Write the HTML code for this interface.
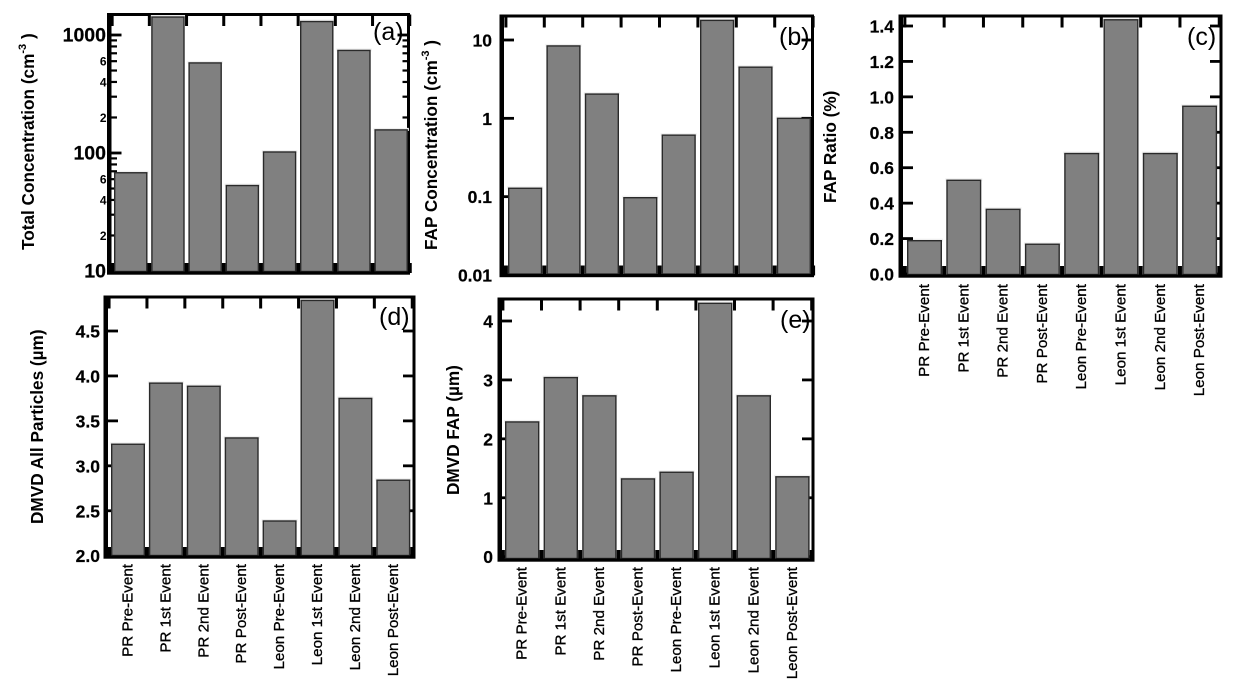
<!DOCTYPE html>
<html lang="en">
<head>
<meta charset="utf-8">
<title>Concentration and DMVD bar charts</title>
<style>
html,body{margin:0;padding:0;background:#fff;width:1237px;height:695px;overflow:hidden}
svg{display:block}
text{font-family:"Liberation Sans",Arial,sans-serif;fill:#000}
.tick{font-weight:bold;stroke:#000;stroke-width:.2px}
.minor{font-weight:bold;font-size:12px}
.title{font-weight:bold;font-size:17.2px}
.cat{font-size:15.2px;stroke:#000;stroke-width:.3px}
.tag{font-size:25px}
</style>
</head>
<body>
<svg id="fig" width="1237" height="695" viewBox="0 0 1237 695" xmlns="http://www.w3.org/2000/svg">
<defs><filter id="soft" x="-2%" y="-2%" width="104%" height="104%"><feGaussianBlur stdDeviation="0.3"/></filter></defs>
<g id="root" filter="url(#soft)"></g>
</svg>
<script>
const categories = ["PR Pre-Event","PR 1st Event","PR 2nd Event","PR Post-Event","Leon Pre-Event","Leon 1st Event","Leon 2nd Event","Leon Post-Event"];
const totalConcentration = [68,1420,580,53,102,1300,740,157];
const fapConcentration = [0.128,8.4,2.04,0.097,0.61,17.8,4.5,1.0];
const fapRatio = [0.188,0.529,0.365,0.168,0.68,1.435,0.68,0.947];
const dmvdAll = [3.24,3.92,3.885,3.31,2.386,4.84,3.75,2.84];
const dmvdFap = [2.287,3.04,2.73,1.32,1.433,4.30,2.73,1.356];

const ticksA = [10,100,1000];
const ticksB = [0.01,0.1,1,10];
const ticksC = [0,0.2,0.4,0.6,0.8,1.0,1.2,1.4];
const ticksD = [2.0,2.5,3.0,3.5,4.0,4.5];
const ticksE = [0,1,2,3,4];
const tickLabelsA = ["10","100","1000"];
const tickLabelsB = ["0.01","0.1","1","10"];
const tickLabelsC = ["0.0","0.2","0.4","0.6","0.8","1.0","1.2","1.4"];
const tickLabelsD = ["2.0","2.5","3.0","3.5","4.0","4.5"];
const tickLabelsE = ["0","1","2","3","4"];
const minorMultipliersA = [2,3,4,5,6,7,8,9];
const labelledMinorsA = [20,40,60,200,400,600];
const minorLabelsA = ["2","4","6","2","4","6"];

const NS = "http://www.w3.org/2000/svg";
const root = document.getElementById("root");

function make(tag, parent, props, text) {
  const el = document.createElementNS(NS, tag);
  for (const k in props) el.setAttribute(k, props[k]);
  if (text !== undefined) el.textContent = text;
  parent.appendChild(el);
  return el;
}
function linearScale(d0, d1, r0, r1) {
  return v => r0 + (v - d0) / (d1 - d0) * (r1 - r0);
}
function logScale(d0, d1, r0, r1) {
  return v => r0 + (Math.log10(v) - Math.log10(d0)) / (Math.log10(d1) - Math.log10(d0)) * (r1 - r0);
}
function bandScale(count, first, pitch) {
  return i => first + i * pitch;
}

function drawPanel(p) {
  const g = make("g", root, {});
  
  

  const band = bandScale(categories.length, p.barX, p.pitch);
  const inset = 0.7;

  const frame = make("rect", g, {x:p.l, y:p.t, width:p.r-p.l, height:p.b-p.t, fill:"#fff", stroke:"#000", "stroke-width":3});
  
  
  const spine = make("rect", g, {x:p.l, y:p.t, width:3, height:p.b-p.t, fill:"#000"});
  
  

  p.values.forEach((v, i) => {
    const y = p.scale(v);
    const halo = make("rect", g, {x:band(i)-1, y:y-2, width:p.barW+2, height:3, fill:"#f0f0f0"});
    
    
  });

  p.ticks.forEach((v, i) => {
    const y = p.scale(v);
    const t1 = make("rect", g, {x:p.l, y:y-1.4, width:13, height:2.8, fill:"#000"});
    
    
    const t2 = make("rect", g, {x:p.r-11, y:y-1.4, width:11, height:2.8, fill:"#000"});
    
    
    const lab = make("text", g, {x:p.labelX, y:y+6.5, "text-anchor":"end", class:"tick", "font-size":p.tickSize+"px"}, p.tickLabels[i]);
    
    
  });

  if (p.minorTicks) {
    p.minorTicks.forEach(v => {
      const y = p.scale(v);
      const a = make("rect", g, {x:p.l, y:y-1.1, width:8.5, height:2.2, fill:"#000"});
      
      
      const b = make("rect", g, {x:p.r-6, y:y-1.1, width:6, height:2.2, fill:"#000"});
      
      
    });
    labelledMinorsA.forEach((v, i) => {
      const m = make("text", g, {x:p.l-2, y:p.scale(v)+4.5, "text-anchor":"end", class:"minor"}, minorLabelsA[i]);
      
      
    });
  }

  for (let i = 0; i <= categories.length; i++) {
    const x = band(i) - (p.pitch - p.barW) / 2;
    const top = make("rect", g, {x:x-1.5, y:p.t, width:3, height:11.5, fill:"#000"});
    
    
    const bottom = make("rect", g, {x:x-2, y:p.b-10, width:4, height:10, fill:"#000"});
    
    
  }

  p.values.forEach((v, i) => {
    const y = p.scale(v);
    const h = p.b - 1.5 - y;
    const bar = make("rect", g, {x:band(i)+inset, y:y, width:p.barW-2*inset, height:h, fill:"#808080", stroke:"#2a2a2a", "stroke-width":1.4});
    
    
  });

  const base = make("rect", g, {x:p.l-1.5, y:p.b-1.5, width:p.r-p.l+3, height:3.2, fill:"#000"});
  
  

  const tx = p.titleX, ty = p.titleY;
  const title = make("text", g, {x:tx, y:ty, class:"title", transform:"rotate(-90 "+tx+" "+ty+")"});
  
  
  if (p.sup) {
    make("tspan", title, {}, p.title);
    make("tspan", title, {dy:-8, "font-size":"11px"}, p.sup);
    make("tspan", title, {dy:8}, " )");
  } else {
    title.textContent = p.title;
  }

  const tag = make("text", g, {x:p.tagX, y:p.tagY, class:"tag"}, "(" + p.id + ")");
  
  

  if (p.catTop) {
    categories.forEach((c, i) => {
      const x = band(i) + p.barW / 2 + 4.5;
      const t = make("text", g, {x:x, y:p.catTop, "text-anchor":"end", class:"cat", transform:"rotate(-90 "+x+" "+p.catTop+")"}, c);
      
      
    });
  }
}

const minorsA = [];
[10,100,1000].forEach(d => minorMultipliersA.forEach(m => { if (d*m <= 1900) minorsA.push(d*m); }));

drawPanel({id:"a", l:108.5, r:408.5, t:14.5, b:273, barX:114, pitch:37.2, barW:33.5, tickSize:19.5,
  scale:logScale(10,1000,271,35), values:totalConcentration, ticks:ticksA, tickLabels:tickLabelsA,
  minorTicks:minorsA, labelX:106, title:"Total Concentration (cm", sup:"-3", titleX:34, titleY:250, tagX:373, tagY:40});
drawPanel({id:"b", l:501, r:812.5, t:16, b:275.5, barX:508, pitch:38.4, barW:34.2, tickSize:17.5,
  scale:logScale(0.01,10,275,40), values:fapConcentration, ticks:ticksB, tickLabels:tickLabelsB,
  labelX:492, title:"FAP Concentration (cm", sup:"-3", titleX:437, titleY:250, tagX:779, tagY:45});
drawPanel({id:"c", l:900, r:1221, t:16, b:276, barX:907, pitch:39.3, barW:35, tickSize:17.5,
  scale:linearScale(0,1.4,274,26), values:fapRatio, ticks:ticksC, tickLabels:tickLabelsC,
  labelX:894, title:"FAP Ratio (%)", titleX:836, titleY:203, tagX:1187, tagY:45, catTop:284});
drawPanel({id:"d", l:105, r:414, t:297, b:557, barX:111, pitch:37.9, barW:34, tickSize:17.5,
  scale:linearScale(2,4.5,555.7,331), values:dmvdAll, ticks:ticksD, tickLabels:tickLabelsD,
  labelX:100, title:"DMVD All Particles (\u00b5m)", titleX:43, titleY:524, tagX:379, tagY:325, catTop:564});
drawPanel({id:"e", l:499, r:813, t:299, b:560, barX:505, pitch:38.6, barW:34.4, tickSize:17.5,
  scale:linearScale(0,4,556.7,321), values:dmvdFap, ticks:ticksE, tickLabels:tickLabelsE,
  labelX:493, title:"DMVD FAP (\u00b5m)", titleX:459, titleY:495, tagX:780, tagY:328, catTop:567});

// Panels (a) and (b) share category labels with the panels below them, so they draw none.
</script>
</body>
</html>
